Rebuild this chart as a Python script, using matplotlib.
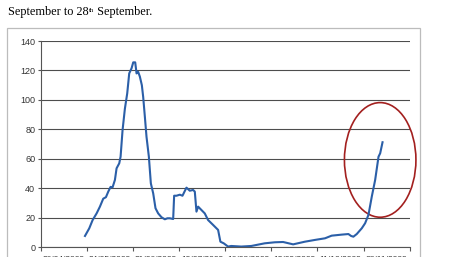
import matplotlib.pyplot as plt
from matplotlib.patches import Rectangle, Ellipse

# curve (x in axis-interval units, y = cases)
x_pos = [0.96, 1.053, 1.126, 1.212, 1.284, 1.356, 1.414, 1.465, 1.515, 1.558,
         1.609, 1.645, 1.703, 1.732, 1.775, 1.825, 1.876, 1.919, 1.970, 2.006,
         2.049, 2.078, 2.114, 2.150, 2.193, 2.222, 2.258, 2.294, 2.345, 2.388,
         2.439, 2.489, 2.547, 2.619, 2.691, 2.749, 2.799, 2.872, 2.893, 2.944,
         3.016, 3.074, 3.160, 3.232, 3.304, 3.341, 3.377, 3.413, 3.485, 3.557,
         3.629, 3.737, 3.846, 3.896, 3.968, 4.062, 4.131, 4.348, 4.566, 4.856,
         5.074, 5.255, 5.473, 5.727, 5.945, 6.163, 6.308, 6.525, 6.671, 6.729,
         6.779, 6.852, 6.961, 7.033, 7.106, 7.178, 7.251, 7.324, 7.360, 7.411]
cases = [7.7, 12.9, 18.5, 23, 27.6, 33, 34, 37.8, 41, 40.7,
         45.7, 53.6, 57, 61.5, 79.6, 94, 104.5, 118, 121.5, 125.5,
         125.5, 118, 119, 115.8, 110, 102, 88.7, 75, 61.5, 43.4,
         36.6, 26.5, 23, 20.4, 19, 19.7, 19.7, 19.2, 35, 35,
         35.7, 35, 40.5, 38.4, 38.9, 37.8, 24.2, 27.6, 25.3, 23,
         18.5, 15.2, 11.8, 3.8, 2.7, 0.5, 0.9, 0.5, 0.9, 2.7,
         3.4, 3.6, 2.0, 3.8, 5.0, 6.1, 7.9, 8.6, 9.0, 7.7,
         7.2, 9.0, 12.9, 16.3, 22, 34.4, 45.7, 61.5, 63.8, 71.3]
date_labels = ["26/04/2009", "24/05/2009", "21/06/2009", "19/07/2009",
               "16/08/2009", "13/09/2009", "11/10/2009", "08/11/2009"]
y_ticks = [0, 20, 40, 60, 80, 100, 120, 140]

W, H = 455, 257
fig = plt.figure(figsize=(W / 100, H / 100), dpi=100)
fig.patch.set_facecolor('white')

# chart frame (document screenshot)
fig.patches.append(Rectangle((7 / W, -0.1), 413 / W, 1.1 - 28.5 / H,
                             transform=fig.transFigure, fill=False,
                             edgecolor='#bcbcbc', linewidth=0.9))

# heading line with a small superscript
renderer = fig.canvas.get_renderer()
serif = dict(family='Liberation Serif', color='black')
t1 = fig.text(8 / W, 1 - 15 / H, "September to 28", fontsize=8.8, **serif)
x1 = t1.get_window_extent(renderer).x1
t2 = fig.text(x1 / W + 0.5 / W, 1 - 11.5 / H, "th", fontsize=4.8, **serif)
x2 = t2.get_window_extent(renderer).x1
fig.text(x2 / W, 1 - 15 / H, " September.", fontsize=8.8, **serif)

ax = fig.add_axes([40.7 / W, 1 - 247.3 / H, 369 / W, 206.3 / H])
ax.plot(x_pos, cases, color='#2b5fa8', linewidth=1.5, solid_joinstyle='round')
ax.add_patch(Ellipse((7.36, 59.3), 1.55, 77.8, fill=False,
                     edgecolor='#a3201f', linewidth=1.2, clip_on=False))

ax.set_xlim(0, 8)
ax.set_ylim(0, 140)
ax.set_yticks(y_ticks)
ax.set_yticklabels([str(v) for v in y_ticks], family='Liberation Sans',
                   fontsize=6.5, color='#333333')
ax.set_xticks(range(9))
ax.set_xticklabels([])
ax.set_xticks([i + 0.5 for i in range(8)], minor=True)
ax.set_xticklabels(date_labels, minor=True, family='Liberation Sans',
                   fontsize=6, color='#333333')
ax.tick_params(axis='x', which='minor', length=0, pad=6.5)
ax.tick_params(axis='x', which='major', length=3, color='#555555', width=0.8)
ax.tick_params(axis='y', length=2.5, color='#555555', width=0.8, pad=1.5)
ax.grid(axis='y', color='#4d4d4d', linewidth=0.8)
ax.set_axisbelow(True)
for s in ['top', 'right']:
    ax.spines[s].set_visible(False)
ax.spines['left'].set_color('#555555')
ax.spines['bottom'].set_color('#555555')
ax.spines['left'].set_linewidth(0.8)
ax.spines['bottom'].set_linewidth(0.8)

fig.savefig('out.png', dpi=100)
